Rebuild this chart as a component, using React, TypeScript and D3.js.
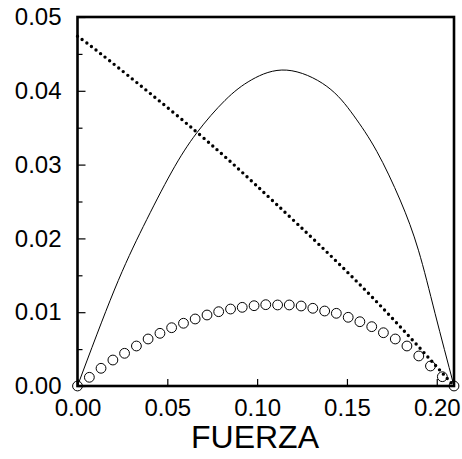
import React, { useRef, useEffect } from "react";
import * as d3 from "d3";

// x tick labels and y tick labels
const xTicks = [0, 0.05, 0.1, 0.15, 0.2];
const yTicks = [0, 0.01, 0.02, 0.03, 0.04, 0.05];
const yMinorTicks = [0.005, 0.015, 0.025, 0.035, 0.045];

// solid curve
const curveForce = [
  0, 0.0205, 0.0366, 0.0524, 0.0664, 0.0821, 0.097, 0.1165, 0.1388, 0.1536,
  0.1666, 0.1796, 0.1898, 0.1991, 0.2096,
];
const curveValues = [
  0, 0.013, 0.0216, 0.029, 0.0343, 0.0387, 0.0415, 0.0428, 0.0406, 0.0367,
  0.0318, 0.0252, 0.0184, 0.0098, 0,
];

// dotted line (slightly bowed)
const dottedForce = [0, 0.0172, 0.0664, 0.11, 0.161, 0.2096];
const dottedValues = [0.0474, 0.0442, 0.0344, 0.0248, 0.0128, 0];

// open circles
const circleForce = [
  0, 0.0066, 0.0131, 0.0197, 0.0262, 0.0328, 0.0393, 0.0459, 0.0524, 0.059,
  0.0655, 0.0721, 0.0786, 0.0852, 0.0917, 0.0983, 0.1048, 0.1114, 0.1179,
  0.1245, 0.131, 0.1376, 0.1441, 0.1507, 0.1572, 0.1638, 0.1703, 0.1769,
  0.1834, 0.19, 0.1965, 0.2031, 0.2096,
];
const circleValues = [
  0, 0.00118, 0.0024, 0.00352, 0.00443, 0.00542, 0.00637, 0.00714, 0.0079,
  0.0085, 0.00908, 0.00962, 0.01007, 0.01043, 0.01066, 0.01088, 0.01102,
  0.01098, 0.01098, 0.01084, 0.01053, 0.01016, 0.00985, 0.00931, 0.00871,
  0.00804, 0.00722, 0.00637, 0.00542, 0.00407, 0.00271, 0.00126, 0,
];

const App = () => {
  const ref = useRef<SVGSVGElement>(null);

  useEffect(() => {
    const svg = d3.select(ref.current);
    svg.selectAll("*").remove();

    const left = 77.5;
    const right = 454;
    const top = 17;
    const bottom = 386;
    const font = "'Liberation Sans', Arial, sans-serif";

    const x = d3.scaleLinear().domain([0, 0.2096]).range([left, right]);
    const y = d3.scaleLinear().domain([0, 0.05]).range([bottom, top]);

    // solid curve
    const line = d3
      .line<number>()
      .x((d, i) => x(curveForce[i]))
      .y((d) => y(d))
      .curve(d3.curveNatural);
    svg
      .append("path")
      .attr("d", line(curveValues))
      .attr("fill", "none")
      .attr("stroke", "#000")
      .attr("stroke-width", 1);

    // dotted line
    const dotted = d3
      .line<number>()
      .x((d, i) => x(dottedForce[i]))
      .y((d) => y(d))
      .curve(d3.curveNatural);
    svg
      .append("path")
      .attr("d", dotted(dottedValues))
      .attr("fill", "none")
      .attr("stroke", "#000")
      .attr("stroke-width", 3.4)
      .attr("stroke-linecap", "round")
      .attr("stroke-dasharray", "0 5.8");

    // circles
    svg
      .selectAll(".pt")
      .data(circleValues)
      .enter()
      .append("circle")
      .attr("class", "pt")
      .attr("cx", (d, i) => x(circleForce[i]))
      .attr("cy", (d) => y(d))
      .attr("r", 4.9)
      .attr("fill", "none")
      .attr("stroke", "#000")
      .attr("stroke-width", 1);

    // frame
    svg
      .append("rect")
      .attr("x", left)
      .attr("y", top)
      .attr("width", right - left)
      .attr("height", bottom - top)
      .attr("fill", "none")
      .attr("stroke", "#000")
      .attr("stroke-width", 2.6);

    // y axis
    const yAxis = svg
      .append("g")
      .attr("transform", `translate(${left},0)`)
      .call(
        d3
          .axisLeft(y)
          .tickValues(yTicks)
          .tickSize(-8)
          .tickPadding(16)
          .tickFormat(d3.format(".2f"))
      );
    svg
      .append("g")
      .attr("transform", `translate(${left},0)`)
      .call(d3.axisLeft(y).tickValues(yMinorTicks).tickSize(-5).tickFormat(() => ""));

    // x axis
    const xAxis = svg
      .append("g")
      .attr("transform", `translate(0,${bottom})`)
      .call(
        d3
          .axisBottom(x)
          .tickValues(xTicks)
          .tickSize(-7)
          .tickPadding(13)
          .tickFormat(d3.format(".2f"))
      );

    svg.selectAll(".domain").remove();
    svg.selectAll(".tick line").attr("stroke", "#000").attr("stroke-width", 1.2);
    [yAxis, xAxis].forEach((g) =>
      g
        .selectAll("text")
        .attr("fill", "#000")
        .style("font-family", font)
        .style("font-size", "24px")
    );

    svg
      .append("text")
      .attr("x", 255)
      .attr("y", 448)
      .attr("text-anchor", "middle")
      .style("font-family", font)
      .style("font-size", "32px")
      .text("FUERZA");
  }, []);

  return (
    <svg
      ref={ref}
      width={462}
      height={459}
      style={{ position: "absolute", left: 0, top: 0, background: "#fff" }}
    />
  );
};

export default App;
